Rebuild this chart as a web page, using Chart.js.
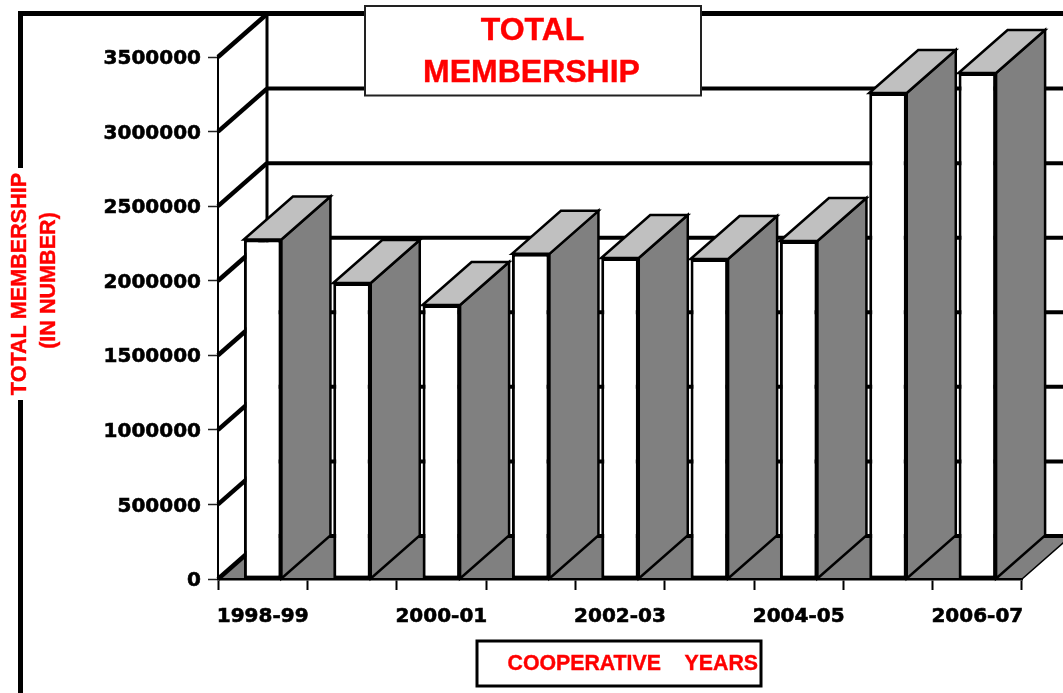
<!DOCTYPE html>
<html>
<head>
<meta charset="utf-8">
<title>Total Membership</title>
<script src="https://cdn.jsdelivr.net/npm/chart.js@4"></script>
<style>
  html, body { margin: 0; padding: 0; background: #fff; overflow: hidden; }
  canvas { display: block; }
</style>
</head>
<body>
<canvas id="membership" width="1063" height="693"></canvas>
<script>
const years = ["1998-99", "1999-00", "2000-01", "2001-02", "2002-03", "2003-04", "2004-05", "2005-06", "2006-07"];
const members = [2276000, 1985000, 1837000, 2180000, 2152000, 2146000, 2266000, 3259000, 3393000];
const yTicks = [0, 500000, 1000000, 1500000, 2000000, 2500000, 3000000, 3500000];
const titleLines = ["TOTAL", "MEMBERSHIP"];
const yTitleLines = ["TOTAL MEMBERSHIP", "(IN NUMBER)"];
const xTitle = "COOPERATIVE    YEARS";

// depth of the fake 3d box
const DX = 49, DY = 43;
const RED = "#ff0000", SIDE = "#808080", TOP = "#c0c0c0";

function line(ctx, x1, y1, x2, y2, width) {
  ctx.lineWidth = width;
  ctx.beginPath();
  ctx.moveTo(x1, y1);
  ctx.lineTo(x2, y2);
  ctx.stroke();
}

function poly(ctx, pts, fill, width) {
  ctx.beginPath();
  pts.forEach((p, i) => i ? ctx.lineTo(p[0], p[1]) : ctx.moveTo(p[0], p[1]));
  ctx.closePath();
  ctx.fillStyle = fill;
  ctx.fill();
  ctx.lineWidth = width;
  ctx.lineJoin = "miter";
  ctx.stroke();
}

function textBox(ctx, x, y, w, h, border) {
  ctx.fillStyle = "#fff";
  ctx.fillRect(x, y, w, h);
  ctx.strokeStyle = border.color;
  ctx.lineWidth = border.width;
  ctx.strokeRect(x, y, w, h);
}

// red text, slightly thickened like the original
function redText(ctx, str, x, y) {
  ctx.fillStyle = RED;
  ctx.strokeStyle = RED;
  ctx.lineWidth = 0.4;
  ctx.fillText(str, x, y);
  ctx.strokeText(str, x, y);
}

const box3d = {
  id: "box3d",
  // frame, floor and walls go under the axes
  beforeDraw(chart) {
    const { ctx, chartArea: a, scales: { y } } = chart;
    ctx.save();
    ctx.strokeStyle = "#000";
    // outer frame, broken where the y title sits
    ctx.lineCap = "butt";
    ctx.beginPath();
    ctx.moveTo(20.5, 168);
    ctx.lineTo(20.5, 13.5);
    ctx.lineTo(1063, 13.5);
    ctx.lineWidth = 5;
    ctx.stroke();
    line(ctx, 20.5, 400, 20.5, 693, 5);

    poly(ctx, [[a.left, a.bottom], [a.left + DX, a.bottom - DY], [a.right + DX, a.bottom - DY], [a.right, a.bottom]], SIDE, 1.5);

    yTicks.forEach(v => {
      const py = y.getPixelForValue(v);
      line(ctx, a.left + DX, py - DY, a.right + DX, py - DY, 4);
      line(ctx, a.left, py, a.left + DX, py - DY, 4.5);
    });
    line(ctx, a.left + DX, a.top - DY, a.left + DX, a.bottom - DY, 3);
    ctx.restore();
  },
  // side and top faces of each bar, the front is the bar itself
  beforeDatasetsDraw(chart) {
    const { ctx } = chart;
    ctx.save();
    ctx.strokeStyle = "#000";
    chart.getDatasetMeta(0).data.forEach(bar => {
      const l = bar.x - bar.width / 2, r = bar.x + bar.width / 2;
      poly(ctx, [[r, bar.base], [r + DX, bar.base - DY], [r + DX, bar.y - DY], [r, bar.y]], SIDE, 2.5);
      poly(ctx, [[l, bar.y], [l + DX, bar.y - DY], [r + DX, bar.y - DY], [r, bar.y]], TOP, 2.5);
    });
    ctx.restore();
  },
  afterDraw(chart) {
    const { ctx } = chart;
    ctx.save();
    ctx.textAlign = "center";
    ctx.textBaseline = "alphabetic";

    textBox(ctx, 365, 6, 336, 89.5, { color: "#222", width: 2 });
    ctx.font = "bold 32px 'Liberation Sans'";
    redText(ctx, titleLines[0], 532.5, 40);
    redText(ctx, titleLines[1], 531.5, 82);

    textBox(ctx, 477, 641, 284, 45, { color: "#000", width: 3 });
    ctx.font = "bold 21.3px 'Liberation Sans'";
    ctx.textAlign = "left";
    redText(ctx, xTitle, 507.5, 670);

    ctx.textAlign = "center";
    ctx.font = "bold 21.6px 'Liberation Sans'";
    ctx.translate(26, 284);
    ctx.rotate(-Math.PI / 2);
    redText(ctx, yTitleLines[0], 0, 0);
    redText(ctx, yTitleLines[1], 3.5, 29);
    ctx.restore();
  }
};

const tickFont = { family: "'DejaVu Sans'", weight: "bold", size: 20 };

new Chart(document.getElementById("membership"), {
  type: "bar",
  data: {
    labels: years,
    datasets: [{
      label: "Total membership",
      data: members,
      backgroundColor: "#fff",
      borderColor: "#000",
      borderWidth: 3,
      borderSkipped: false,
      barPercentage: 0.42,
      categoryPercentage: 1
    }]
  },
  plugins: [box3d],
  options: {
    responsive: false,
    animation: false,
    layout: { padding: { top: 57, right: 41, bottom: 0, left: 0 } },
    plugins: { legend: { display: false }, title: { display: false }, tooltip: { enabled: false } },
    scales: {
      x: {
        afterFit: s => { s.height = 114; },
        grid: { drawOnChartArea: false, tickLength: 11, tickWidth: 2, tickColor: "#000" },
        border: { color: "#000", width: 2.5 },
        ticks: {
          autoSkip: false,
          maxRotation: 0,
          padding: 15,
          color: "#000",
          textStrokeColor: "#000",
          textStrokeWidth: 0.6,
          font: tickFont,
          callback(v, i) { return i % 2 ? "" : this.getLabelForValue(v); }
        }
      },
      y: {
        min: 0,
        max: 3500000,
        afterFit: s => { s.width = 218; },
        afterBuildTicks: s => { s.ticks = yTicks.map(value => ({ value })); },
        grid: { drawOnChartArea: false, tickLength: 10, tickWidth: 1.5, tickColor: "#222" },
        border: { color: "#000", width: 2 },
        ticks: {
          padding: 7,
          labelOffset: 2,
          color: "#000",
          textStrokeColor: "#000",
          textStrokeWidth: 0.6,
          font: tickFont,
          callback: v => String(v)
        }
      }
    }
  }
});
</script>
</body>
</html>
